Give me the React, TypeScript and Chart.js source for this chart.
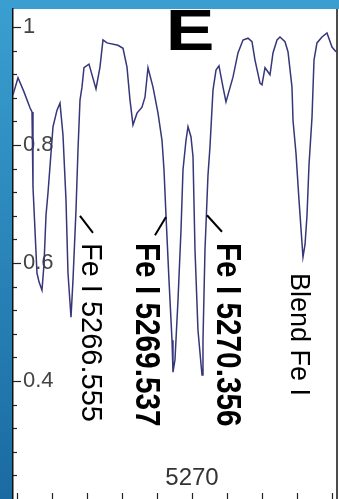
import React, { useEffect, useRef } from 'react';
import { Chart, registerables } from 'chart.js';
Chart.register(...registerables);

// ---- data ----
const wavelengths = [
  5264.886, 5265.029, 5265.2, 5265.371, 5265.429, 5265.457, 5265.571, 5265.629, 5265.714, 5265.771,
  5265.829, 5265.886, 5266.029, 5266.143, 5266.229, 5266.314, 5266.4, 5266.457, 5266.543, 5266.6,
  5266.686, 5266.743, 5266.8, 5266.857, 5266.914, 5267.057, 5267.257, 5267.371, 5267.457, 5267.571,
  5267.886, 5268.029, 5268.143, 5268.229, 5268.314, 5268.429, 5268.571, 5268.657, 5268.743, 5268.886,
  5269.029, 5269.143, 5269.2, 5269.257, 5269.343, 5269.429, 5269.457, 5269.514, 5269.6, 5269.686,
  5269.743, 5269.829, 5269.886, 5269.971, 5270.029, 5270.086, 5270.171, 5270.286, 5270.314, 5270.371,
  5270.457, 5270.514, 5270.6, 5270.686, 5270.771, 5270.886, 5270.971, 5271.171, 5271.314, 5271.457,
  5271.6, 5271.714, 5271.8, 5271.943, 5272.0, 5272.086, 5272.229, 5272.314, 5272.429, 5272.514,
  5272.657, 5272.743, 5272.857, 5272.886, 5272.971, 5273.057, 5273.171, 5273.229, 5273.286, 5273.343,
  5273.429, 5273.486, 5273.571, 5273.714, 5273.857, 5274.0, 5274.114,
];
const flux = [
  0.885, 0.914, 0.89, 0.863, 0.856, 0.729, 0.583, 0.568, 0.554, 0.597,
  0.681, 0.719, 0.831, 0.859, 0.871, 0.817, 0.707, 0.583, 0.508, 0.571,
  0.69, 0.792, 0.876, 0.898, 0.931, 0.937, 0.895, 0.932, 0.978, 0.973,
  0.969, 0.964, 0.932, 0.876, 0.834, 0.854, 0.864, 0.881, 0.931, 0.898,
  0.854, 0.808, 0.758, 0.681, 0.571, 0.469, 0.415, 0.436, 0.537, 0.656,
  0.758, 0.808, 0.831, 0.814, 0.78, 0.622, 0.486, 0.41, 0.469, 0.622,
  0.749, 0.797, 0.893, 0.927, 0.934, 0.898, 0.873, 0.915, 0.956, 0.978,
  0.981, 0.975, 0.944, 0.905, 0.902, 0.931, 0.919, 0.956, 0.978, 0.983,
  0.975, 0.958, 0.898, 0.842, 0.786, 0.707, 0.61, 0.631, 0.681, 0.766,
  0.847, 0.944, 0.973, 0.983, 0.99, 0.966, 0.958,
];
const xTickLabels = [5270];
const yTickLabels = [1, 0.8, 0.6, 0.4];
const lineLabels = ['Fe I 5266.555', 'Fe I 5269.537', 'Fe I 5270.356', 'Blend Fe I'];
const panelLetter = 'E';

// ---- annotation placement (data coordinates) ----
const annotations = [
  { text: lineLabels[0], x: 5267.086, y: 0.634, font: '29px "Liberation Sans"', sx: 1, lead: [5266.8, 0.68, 5267.171, 0.651] },
  { text: lineLabels[1], x: 5268.686, y: 0.634, font: 'bold 35px "Liberation Sans"', sx: 0.85, lead: [5269.257, 0.678, 5268.943, 0.647] },
  { text: lineLabels[2], x: 5271.0, y: 0.634, font: 'bold 35px "Liberation Sans"', sx: 0.85, lead: [5270.429, 0.681, 5270.857, 0.653] },
  { text: lineLabels[3], x: 5273.029, y: 0.583, font: '27px "Liberation Sans"', sx: 1, lead: null },
];
const letterPos = { x: 5269.943, y: 0.961 };

const near = (a: number, b: number) => Math.abs(a - b) < 1e-6;

const decorPlugin = {
  id: 'decor',
  beforeDraw(chart: any) {
    const { ctx, chartArea: a, width, height } = chart;
    ctx.save();
    const g = ctx.createLinearGradient(0, 0, 0, height);
    g.addColorStop(0, '#3a9fd0');
    g.addColorStop(1, '#1a6ba2');
    ctx.fillStyle = g;
    ctx.fillRect(0, 0, width, height);
    ctx.fillStyle = '#ffffff';
    ctx.fillRect(a.left, a.top, width - a.left, height - a.top);
    ctx.restore();
  },
  afterDraw(chart: any) {
    const { ctx, chartArea: a } = chart;
    const xs = chart.scales.x;
    const ys = chart.scales.y;
    ctx.save();
    ctx.strokeStyle = '#222';
    ctx.lineWidth = 1.2;
    // y ticks (inward)
    ys.ticks.forEach((t: any) => {
      const py = Math.round(ys.getPixelForValue(t.value)) + 0.5;
      if (py < a.top || py > a.bottom) return;
      const major = yTickLabels.some((v) => near(v, t.value));
      ctx.beginPath();
      ctx.moveTo(a.left, py);
      ctx.lineTo(a.left + (major ? 8 : 4), py);
      ctx.stroke();
    });
    // x ticks (inward, from bottom)
    xs.ticks.forEach((t: any) => {
      const px = Math.round(xs.getPixelForValue(t.value)) + 0.5;
      ctx.beginPath();
      ctx.moveTo(px, a.bottom);
      ctx.lineTo(px, a.bottom - 6);
      ctx.stroke();
    });
    // right frame
    ctx.strokeStyle = '#111';
    ctx.lineWidth = 1.5;
    ctx.beginPath();
    ctx.moveTo(a.right, a.top);
    ctx.lineTo(a.right, a.bottom);
    ctx.stroke();

    // annotations
    ctx.fillStyle = '#000';
    annotations.forEach((an) => {
      const cx = xs.getPixelForValue(an.x);
      const cy = ys.getPixelForValue(an.y);
      ctx.save();
      ctx.translate(cx, cy);
      ctx.rotate(Math.PI / 2);
      ctx.scale(an.sx, 1);
      ctx.font = an.font;
      ctx.textAlign = 'left';
      ctx.textBaseline = 'middle';
      ctx.fillText(an.text, 0, 0);
      ctx.restore();
      if (an.lead) {
        ctx.strokeStyle = '#000';
        ctx.lineWidth = 2;
        ctx.beginPath();
        ctx.moveTo(xs.getPixelForValue(an.lead[0]), ys.getPixelForValue(an.lead[1]));
        ctx.lineTo(xs.getPixelForValue(an.lead[2]), ys.getPixelForValue(an.lead[3]));
        ctx.stroke();
      }
    });

    // panel letter
    ctx.save();
    ctx.beginPath();
    ctx.rect(a.left, a.top, a.right - a.left, a.bottom - a.top);
    ctx.clip();
    ctx.translate(xs.getPixelForValue(letterPos.x), ys.getPixelForValue(letterPos.y));
    ctx.scale(1.28, 1);
    ctx.font = 'bold 57px "Liberation Sans"';
    ctx.textAlign = 'center';
    ctx.textBaseline = 'alphabetic';
    ctx.fillStyle = '#000';
    ctx.fillText(panelLetter, 0, 0);
    ctx.restore();
    ctx.restore();
  },
};

export default function App() {
  const ref = useRef<HTMLCanvasElement>(null);
  useEffect(() => {
    if (!ref.current) return;
    const chart = new Chart(ref.current, {
      type: 'line',
      data: {
        datasets: [
          {
            data: wavelengths.map((w, i) => ({ x: w, y: flux[i] })),
            borderColor: '#36367a',
            borderWidth: 1.5,
            pointRadius: 0,
            tension: 0,
            fill: false,
          },
        ],
      },
      options: {
        animation: false,
        responsive: false,
        events: [],
        layout: { padding: { top: 9, right: 2, left: 0, bottom: 0 } },
        plugins: { legend: { display: false }, tooltip: { enabled: false } },
        scales: {
          x: {
            type: 'linear',
            min: 5264.886,
            max: 5274.143,
            afterFit: (s: any) => {
              s.height = 0;
              s.paddingLeft = 0;
              s.paddingRight = 0;
              s.paddingTop = 0;
              s.paddingBottom = 0;
            },
            grid: { display: true, drawOnChartArea: false, drawTicks: false },
            border: { display: false },
            ticks: {
              stepSize: 1,
              autoSkip: false,
              maxRotation: 0,
              includeBounds: false,
              mirror: true,
              padding: 6,
              color: '#333',
              font: { family: 'Liberation Sans', size: 24 },
              callback: (v: any) => (xTickLabels.some((t) => near(t, Number(v))) ? String(Math.round(Number(v))) : ''),
            },
          },
          y: {
            type: 'linear',
            min: 0.2,
            max: 1.0305,
            afterFit: (s: any) => {
              s.width = 13;
              s.paddingLeft = 0;
              s.paddingRight = 0;
              s.paddingTop = 0;
              s.paddingBottom = 0;
            },
            grid: { display: true, drawOnChartArea: false, drawTicks: false },
            border: { display: true, color: '#111', width: 1.5 },
            ticks: {
              stepSize: 0.04,
              mirror: true,
              padding: 10,
              autoSkip: false,
              includeBounds: false,
              color: '#444',
              font: { family: 'Liberation Sans', size: 22 },
              callback: (v: any) => {
                const n = Number(v);
                const hit = yTickLabels.find((t) => near(t, n));
                return hit !== undefined ? String(hit) : '';
              },
            },
          },
        },
      },
      plugins: [decorPlugin],
    });
    return () => chart.destroy();
  }, []);
  return (
    <div style={{ position: 'fixed', left: 0, top: 0, width: 339, height: 499 }}>
      <canvas ref={ref} width={339} height={499} style={{ display: 'block' }} />
    </div>
  );
}
